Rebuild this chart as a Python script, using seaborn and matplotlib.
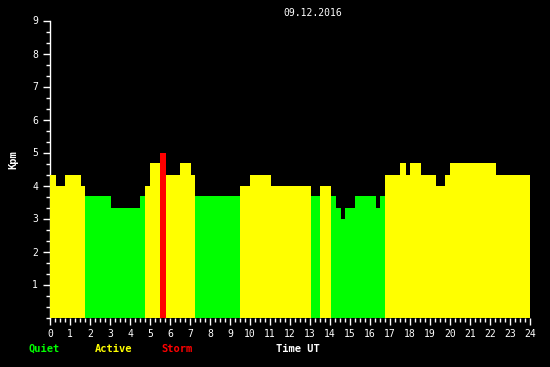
import numpy as np
import pandas as pd
import matplotlib
matplotlib.use("Agg")
import matplotlib.pyplot as plt
import seaborn as sns

# Segment start times (hours UT) and Kpm values
seg_start = [0, 0.3, 0.75, 1.55, 1.75, 3.05, 4.5, 4.75, 5.0, 5.5, 5.8, 6.5, 7.05,
             7.25, 9.5, 10.0, 11.05, 13.05, 13.5, 14.05, 14.3, 14.55, 14.75, 15.25,
             16.3, 16.5, 16.75, 17.5, 17.8, 18.0, 18.55, 19.3, 19.75, 20.0, 22.3]
seg_end_last = 24.05
kpm = [4.333, 4.0, 4.333, 4.0, 3.667, 3.333, 3.667, 4.0, 4.667, 5.0, 4.333, 4.667,
       4.333, 3.667, 4.0, 4.333, 4.0, 3.667, 4.0, 3.667, 3.333, 3.0, 3.333, 3.667,
       3.333, 3.667, 4.333, 4.667, 4.333, 4.667, 4.333, 4.0, 4.333, 4.667, 4.333]
x_tick_labels = [str(i) for i in range(25)]
y_tick_labels = [str(i) for i in range(1, 10)]
date_label = "09.12.2016"
legend_labels = ["Quiet", "Active", "Storm"]

def category(v):
    if v >= 5:
        return "Storm"
    if v >= 4 - 1e-6:
        return "Active"
    return "Quiet"

edges = list(seg_start) + [seg_end_last]
mids = [(edges[i] + edges[i + 1]) / 2 for i in range(len(seg_start))]
df = pd.DataFrame({"t": mids, "kpm": kpm, "cat": [category(v) for v in kpm]})

palette = {"Quiet": "#00ff00", "Active": "#ffff00", "Storm": "#ff0000"}

sns.set_style("dark")
plt.rcParams["font.family"] = ["DejaVu Sans Mono"]

fig = plt.figure(figsize=(5.5, 3.67), dpi=100, facecolor="black")
ax = fig.add_axes([50 / 550, (367 - 317.5) / 367, 480 / 550, 297 / 367])
ax.set_facecolor("black")

sns.histplot(data=df, x="t", weights="kpm", hue="cat", bins=edges,
             palette=palette, multiple="layer", alpha=1, linewidth=0,
             legend=False, ax=ax, hue_order=legend_labels)

ax.set_xlim(0, 24)
ax.set_ylim(0, 9)
ax.grid(False)
ax.set_xlabel("")
ax.set_ylabel("")

ax.set_xticks(range(25))
ax.set_xticklabels(x_tick_labels)
ax.set_xticks(np.arange(0, 24.01, 0.25), minor=True)
ax.set_yticks(range(1, 10))
ax.set_yticklabels(y_tick_labels)
ax.set_yticks(np.arange(0, 9.01, 1 / 3), minor=True)

ax.tick_params(axis="both", which="both", bottom=True, left=True, top=False,
               right=False, colors="white", direction="out", width=1)
ax.tick_params(axis="both", which="major", length=5, labelsize=7)
ax.tick_params(axis="both", which="minor", length=3)
ax.tick_params(axis="x", which="major", pad=3.5)
ax.tick_params(axis="y", which="major", pad=3.5)

for s in ["top", "right", "bottom"]:
    ax.spines[s].set_visible(False)
ax.spines["left"].set_color("white")
ax.spines["left"].set_linewidth(1)
ax.spines["left"].set_zorder(0.5)

fig.text(13 / 550, 1 - 160 / 367, "Kpm", color="white", rotation=90,
         ha="center", va="center", fontsize=7.5, fontweight="bold")
fig.text(313 / 550, 1 - 13 / 367, date_label, color="white", ha="center",
         va="center", fontsize=7)

for lab, xc in zip(legend_labels, [44, 114, 177]):
    fig.text(xc / 550, 1 - 349 / 367, lab, color=palette[lab], ha="center",
             va="center", fontsize=7.5, fontweight="bold")
fig.text(298 / 550, 1 - 349 / 367, "Time UT", color="white", ha="center",
         va="center", fontsize=7.5, fontweight="bold")

fig.savefig("out.png", dpi=100, facecolor="black")
